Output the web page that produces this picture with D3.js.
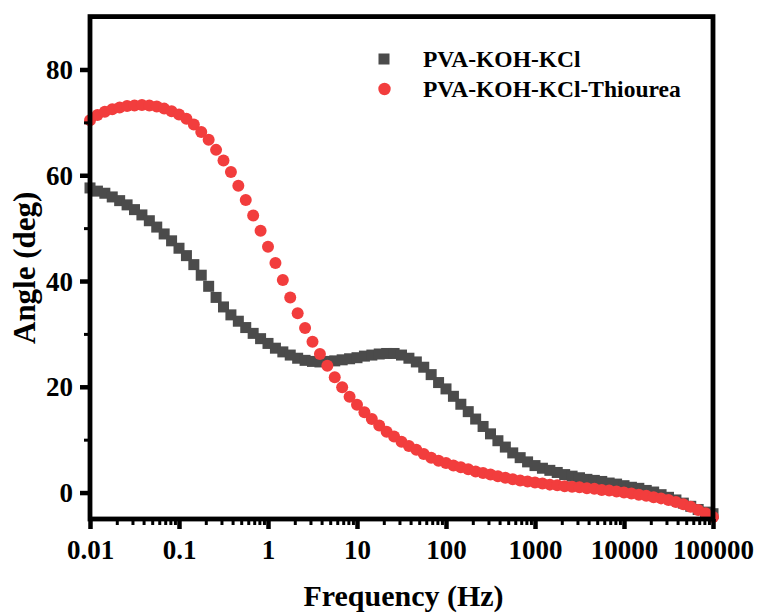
<!DOCTYPE html>
<html>
<head>
<meta charset="utf-8">
<script src="https://cdn.jsdelivr.net/npm/d3@7"></script>
<style>
  html, body { margin: 0; padding: 0; background: #ffffff; }
  svg { display: block; }
  text { font-family: "Liberation Serif", "Times New Roman", serif; font-weight: bold; fill: #000; }
</style>
</head>
<body>
<div id="chart"></div>
<script>
// Bode phase plot: phase angle vs. frequency for two gel electrolytes

// Measurement frequencies (Hz), 12 points per decade
const frequencies = [
  0.01, 0.01212, 0.01468, 0.01778, 0.02154, 0.0261, 0.03162, 0.03831, 0.04642, 0.05623, 0.06813, 0.08254,
  0.1, 0.1212, 0.1468, 0.1778, 0.2154, 0.261, 0.3162, 0.3831, 0.4642, 0.5623, 0.6813, 0.8254,
  1, 1.212, 1.468, 1.778, 2.154, 2.61, 3.162, 3.831, 4.642, 5.623, 6.813, 8.254,
  10, 12.12, 14.68, 17.78, 21.54, 26.1, 31.62, 38.31, 46.42, 56.23, 68.13, 82.54,
  100, 121.2, 146.8, 177.8, 215.4, 261, 316.2, 383.1, 464.2, 562.3, 681.3, 825.4,
  1000, 1212, 1468, 1778, 2154, 2610, 3162, 3831, 4642, 5623, 6813, 8254,
  10000, 12115, 14678, 17783, 21544, 26102, 31623, 38312, 46416, 56234, 68129, 82540,
  100000
];

// Phase angle (deg) of PVA-KOH-KCl
const angleKCl = [
  57.6, 57.0, 56.6, 55.9, 55.2, 54.4, 53.5, 52.5, 51.4, 50.2, 48.9, 47.6,
  46.2, 44.8, 43.1, 41.1, 39.0, 36.9, 35.1, 33.6, 32.4, 31.2, 30.1, 29.1,
  28.2, 27.3, 26.6, 26.0, 25.4, 25.0, 24.8, 24.7, 24.8, 24.9, 25.1, 25.3,
  25.5, 25.8, 26.0, 26.2, 26.3, 26.3, 26.0, 25.4, 24.7, 23.7, 22.3, 20.8,
  19.6, 18.2, 16.7, 15.3, 13.9, 12.5, 11.1, 9.8, 8.6, 7.5, 6.6, 5.8,
  5.1, 4.6, 4.2, 3.8, 3.4, 3.1, 2.8, 2.5, 2.3, 2.1, 1.8, 1.6,
  1.3, 1.0, 0.8, 0.4, 0.1, -0.4, -0.9, -1.4, -2.0, -2.6, -3.2, -3.7,
  -4.0
];

// Phase angle (deg) of PVA-KOH-KCl-Thiourea
const angleThiourea = [
  70.4, 71.4, 72.0, 72.5, 72.8, 73.1, 73.2, 73.3, 73.2, 73.0, 72.6, 72.1,
  71.5, 70.7, 69.6, 68.2, 66.7, 64.8, 62.8, 60.6, 58.0, 55.3, 52.4, 49.5,
  46.5, 43.4, 40.2, 36.9, 33.9, 31.1, 28.5, 26.2, 24.0, 21.8, 19.9, 18.1,
  16.6, 15.2, 13.9, 12.7, 11.5, 10.6, 9.6, 8.8, 8.1, 7.3, 6.6, 6.0,
  5.6, 5.1, 4.8, 4.4, 4.0, 3.7, 3.4, 3.1, 2.8, 2.5, 2.3, 2.1,
  1.9, 1.7, 1.5, 1.4, 1.2, 1.1, 1.0, 0.8, 0.7, 0.5, 0.4, 0.2,
  0.0, -0.2, -0.4, -0.6, -0.9, -1.1, -1.4, -1.8, -2.2, -2.7, -3.3, -3.9,
  -4.6
];

const seriesNames = ["PVA-KOH-KCl", "PVA-KOH-KCl-Thiourea"];
const xTickValues = [0.01, 0.1, 1, 10, 100, 1000, 10000, 100000];
const xTickLabels = ["0.01", "0.1", "1", "10", "100", "1000", "10000", "100000"];
const yTickValues = [0, 20, 40, 60, 80];
const yMinorValues = [10, 30, 50, 70];
const xTitle = "Frequency (Hz)";
const yTitle = "Angle (deg)";

const W = 761, H = 616;
const plot = { left: 90, right: 713, top: 16.6, bottom: 519 };
const colors = { kcl: "#4b4b4b", thio: "#f23d3d" };

const svg = d3.select("#chart").append("svg").attr("width", W).attr("height", H);

const x = d3.scaleLog().domain([0.01, 100000]).range([plot.left, plot.right]);
const y = d3.scaleLinear().domain([-5, 90]).range([plot.bottom, plot.top]);

// minor log ticks (2..9 within each decade)
const xMinor = [];
xTickValues.slice(0, -1).forEach(d => { for (let m = 2; m <= 9; m++) xMinor.push(d * m); });

// data markers: squares first, circles drawn above
const sq = 11;
svg.append("g").selectAll("rect")
  .data(frequencies.map((f, i) => [f, angleKCl[i]]))
  .join("rect")
  .attr("x", d => x(d[0]) - sq / 2)
  .attr("y", d => y(d[1]) - sq / 2)
  .attr("width", sq).attr("height", sq)
  .attr("fill", colors.kcl);

svg.append("g").selectAll("circle")
  .data(frequencies.map((f, i) => [f, angleThiourea[i]]))
  .join("circle")
  .attr("cx", d => x(d[0]))
  .attr("cy", d => y(d[1]))
  .attr("r", 6)
  .attr("fill", colors.thio);

// axes
const xMinorAxis = svg.append("g")
  .attr("transform", `translate(0,${plot.bottom})`)
  .call(d3.axisBottom(x).tickValues(xMinor).tickSize(6).tickFormat(""));
xMinorAxis.select(".domain").remove();
xMinorAxis.selectAll("line").attr("stroke", "#000").attr("stroke-width", 3);

const xAxis = svg.append("g")
  .attr("transform", `translate(0,${plot.bottom})`)
  .call(d3.axisBottom(x).tickValues(xTickValues).tickSize(10)
    .tickFormat((d, i) => xTickLabels[i]));
xAxis.select(".domain").remove();
xAxis.selectAll("line").attr("stroke", "#000").attr("stroke-width", 4.5);
xAxis.selectAll("text")
  .attr("y", 40).attr("dy", 0)
  .attr("font-size", 27)
  .attr("font-family", "Liberation Serif, Times New Roman, serif")
  .attr("font-weight", "bold")
  .attr("fill", "#000");

const yMinorAxis = svg.append("g")
  .attr("transform", `translate(${plot.left},0)`)
  .call(d3.axisLeft(y).tickValues(yMinorValues).tickSize(6).tickFormat(""));
yMinorAxis.select(".domain").remove();
yMinorAxis.selectAll("line").attr("stroke", "#000").attr("stroke-width", 3);

const yAxis = svg.append("g")
  .attr("transform", `translate(${plot.left},0)`)
  .call(d3.axisLeft(y).tickValues(yTickValues).tickSize(10).tickFormat(d3.format("d")));
yAxis.select(".domain").remove();
yAxis.selectAll("line").attr("stroke", "#000").attr("stroke-width", 4.5);
yAxis.selectAll("text")
  .attr("x", -17).attr("dy", "0.34em")
  .attr("font-size", 27)
  .attr("font-family", "Liberation Serif, Times New Roman, serif")
  .attr("font-weight", "bold")
  .attr("fill", "#000");

// frame
svg.append("rect")
  .attr("x", plot.left).attr("y", plot.top)
  .attr("width", plot.right - plot.left).attr("height", plot.bottom - plot.top)
  .attr("fill", "none").attr("stroke", "#000").attr("stroke-width", 4.8);

// axis titles
svg.append("text")
  .attr("x", (plot.left + plot.right) / 2 + 2).attr("y", 606)
  .attr("text-anchor", "middle").attr("font-size", 30)
  .text(xTitle);

svg.append("text")
  .attr("transform", `translate(35,${(plot.top + plot.bottom) / 2}) rotate(-90)`)
  .attr("text-anchor", "middle").attr("font-size", 31)
  .text(yTitle);

// legend
const legend = svg.append("g");
legend.append("rect")
  .attr("x", 384 - 5.5).attr("y", 59 - 5.5).attr("width", 11).attr("height", 11)
  .attr("fill", colors.kcl);
legend.append("circle")
  .attr("cx", 384.5).attr("cy", 89).attr("r", 6.2)
  .attr("fill", colors.thio);
legend.selectAll("text.lg")
  .data(seriesNames)
  .join("text")
  .attr("class", "lg")
  .attr("x", 423).attr("y", (d, i) => 67 + i * 30)
  .attr("font-size", 23.5)
  .text(d => d);
</script>
</body>
</html>
